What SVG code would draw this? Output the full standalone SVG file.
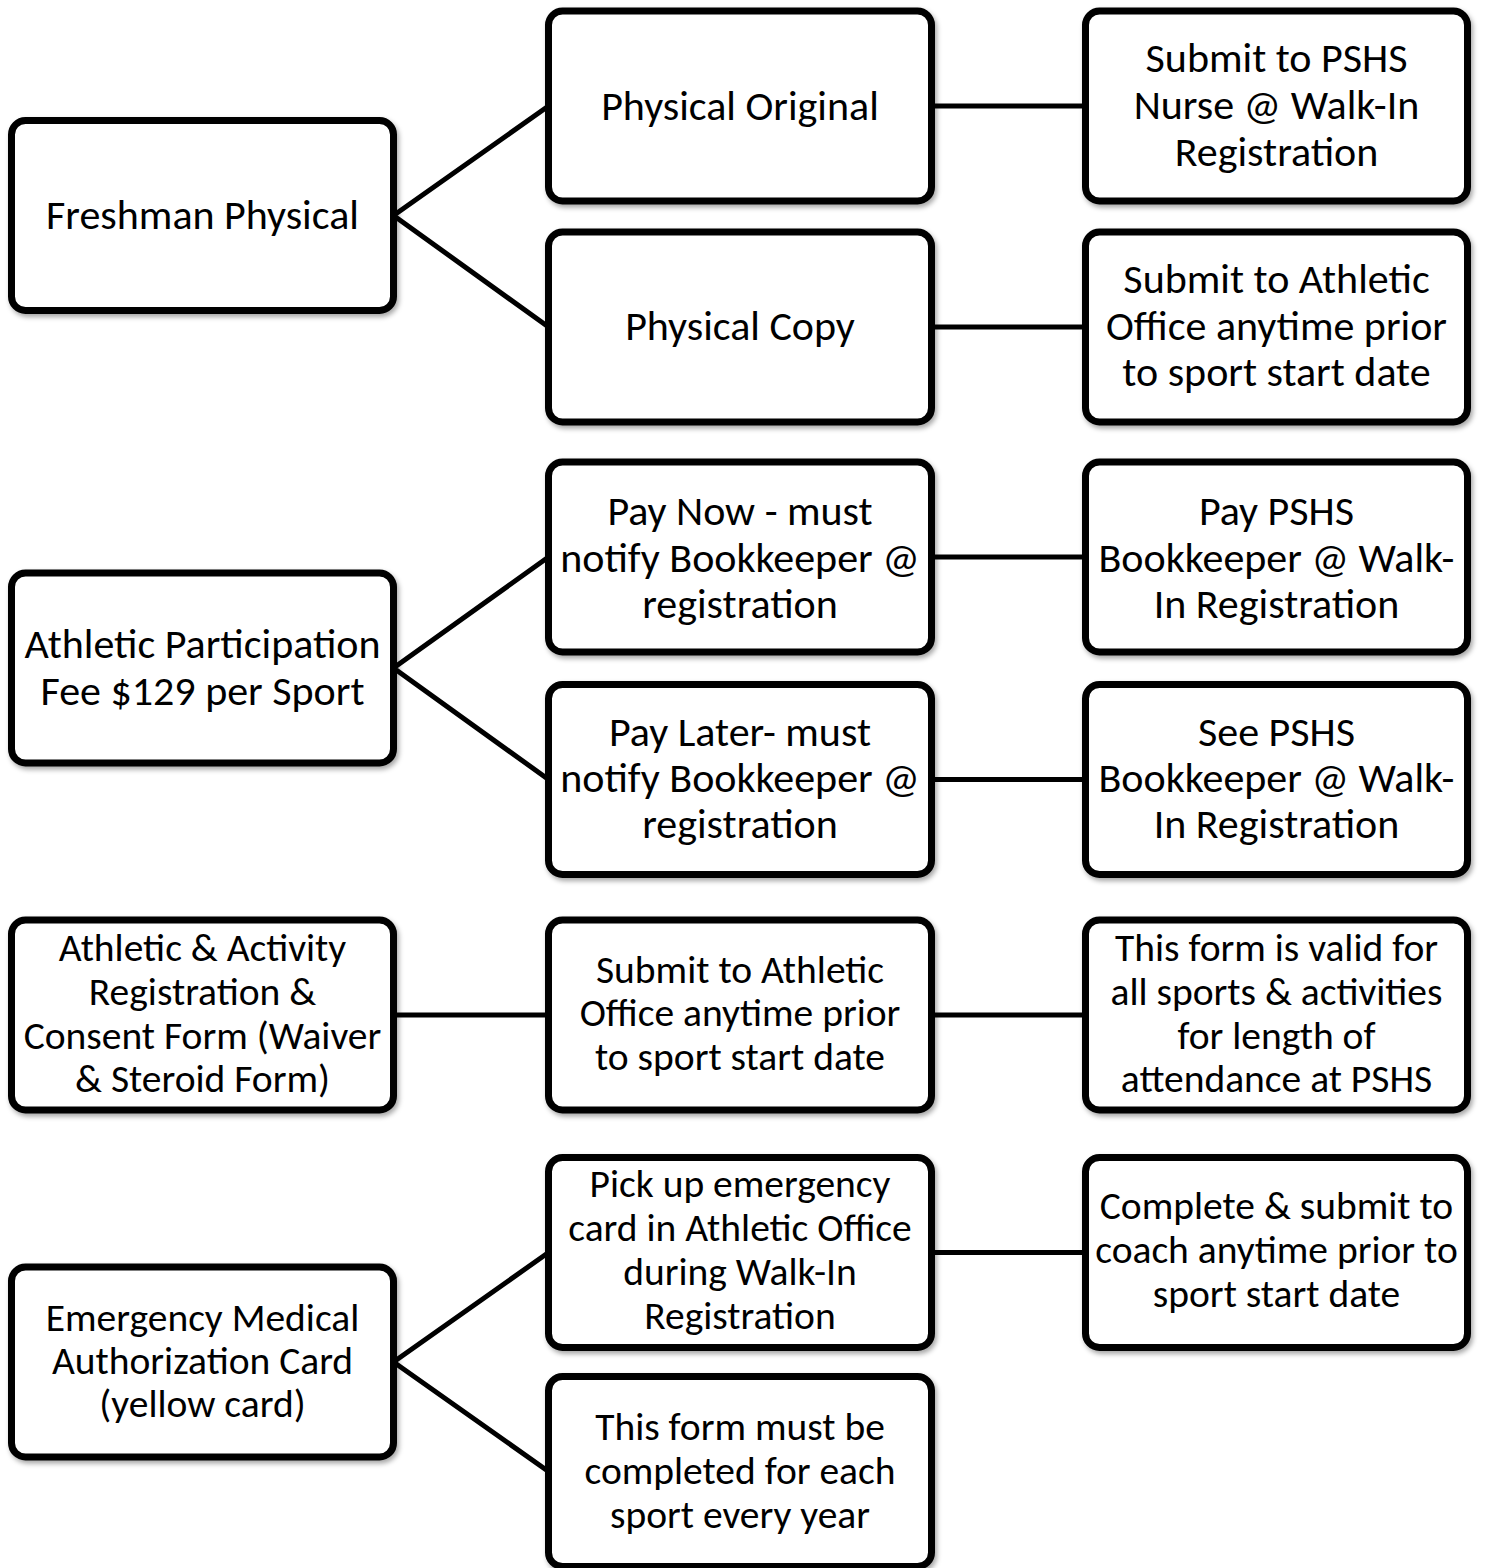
<svg xmlns="http://www.w3.org/2000/svg" width="1485" height="1568" viewBox="0 0 1485 1568">
<defs>
<filter id="sh" x="-5%" y="-5%" width="115%" height="120%">
<feDropShadow dx="2" dy="3" stdDeviation="2.5" flood-color="#000" flood-opacity="0.35"/>
</filter>
</defs>
<style>
.box{fill:#fff;stroke:#000;stroke-width:7;filter:url(#sh)}
.ln{stroke:#000;stroke-width:5;fill:none}
text{font-family:Carlito,Calibri,Lato,"Liberation Sans",sans-serif;fill:#000;text-anchor:middle}
.b{font-size:42px}
.s{font-size:39.5px}
</style>
<rect width="1485" height="1568" fill="#fff"/>
<g id="connectors">
<path class="ln" d="M393.5,215.5 L548.5,106 M393.5,215.5 L548.5,327"/>
<path class="ln" d="M393.5,668 L548.5,557 M393.5,668 L548.5,779.5"/>
<path class="ln" d="M393.5,1015 L548.5,1015"/>
<path class="ln" d="M393.5,1362 L548.5,1252.5 M393.5,1362 L548.5,1471.5"/>
<path class="ln" d="M931.5,106 L1085.5,106 M931.5,327 L1085.5,327 M931.5,557 L1085.5,557 M931.5,779.5 L1085.5,779.5 M931.5,1015 L1085.5,1015 M931.5,1252.5 L1085.5,1252.5"/>
</g>
<g id="freshman-physical">
<rect class="box" x="11.5" y="120.5" width="382" height="190" rx="14"/>
<text class="b" x="202.5" y="229">Freshman Physical</text>
</g>
<g id="physical-original">
<rect class="box" x="548.5" y="11" width="383" height="190" rx="14"/>
<text class="b" x="740" y="119.5">Physical Original</text>
</g>
<g id="physical-copy">
<rect class="box" x="548.5" y="232" width="383" height="190" rx="14"/>
<text class="b" x="740" y="340">Physical Copy</text>
</g>
<g id="submit-nurse">
<rect class="box" x="1085.5" y="11" width="382" height="190" rx="14"/>
<text class="b" x="1276.5" y="72">Submit to PSHS</text>
<text class="b" x="1276.5" y="119">Nurse @ Walk-In</text>
<text class="b" x="1276.5" y="166">Registration</text>
</g>
<g id="submit-athletic-1">
<rect class="box" x="1085.5" y="232" width="382" height="190" rx="14"/>
<text class="b" x="1276.5" y="293">Submit to Athletic</text>
<text class="b" x="1276.5" y="340">Office anytime prior</text>
<text class="b" x="1276.5" y="386">to sport start date</text>
</g>
<g id="athletic-participation">
<rect class="box" x="11.5" y="573" width="382" height="190" rx="14"/>
<text class="b" x="202.5" y="658">Athletic Participation</text>
<text class="b" x="202.5" y="705">Fee $129 per Sport</text>
</g>
<g id="pay-now">
<rect class="box" x="548.5" y="462" width="383" height="190" rx="14"/>
<text class="b" x="740" y="524.5">Pay Now - must</text>
<text class="b" x="740" y="571.5">notify Bookkeeper @</text>
<text class="b" x="740" y="617.5">registration</text>
</g>
<g id="pay-later">
<rect class="box" x="548.5" y="684.5" width="383" height="190" rx="14"/>
<text class="b" x="740" y="745.5">Pay Later- must</text>
<text class="b" x="740" y="791.5">notify Bookkeeper @</text>
<text class="b" x="740" y="837.5">registration</text>
</g>
<g id="pay-pshs">
<rect class="box" x="1085.5" y="462" width="382" height="190" rx="14"/>
<text class="b" x="1276.5" y="524.5">Pay PSHS</text>
<text class="b" x="1276.5" y="571.5">Bookkeeper @ Walk-</text>
<text class="b" x="1276.5" y="617.5">In Registration</text>
</g>
<g id="see-pshs">
<rect class="box" x="1085.5" y="684.5" width="382" height="190" rx="14"/>
<text class="b" x="1276.5" y="745.5">See PSHS</text>
<text class="b" x="1276.5" y="791.5">Bookkeeper @ Walk-</text>
<text class="b" x="1276.5" y="837.5">In Registration</text>
</g>
<g id="consent-form">
<rect class="box" x="11.5" y="920" width="382" height="190" rx="14"/>
<text class="s" x="202.5" y="960.5">Athletic &amp; Activity</text>
<text class="s" x="202.5" y="1004.5">Registration &amp;</text>
<text class="s" x="202.5" y="1048.5">Consent Form (Waiver</text>
<text class="s" x="202.5" y="1091.5">&amp; Steroid Form)</text>
</g>
<g id="submit-athletic-2">
<rect class="box" x="548.5" y="920" width="383" height="190" rx="14"/>
<text class="s" x="740" y="982.5">Submit to Athletic</text>
<text class="s" x="740" y="1026">Office anytime prior</text>
<text class="s" x="740" y="1069.5">to sport start date</text>
</g>
<g id="form-valid">
<rect class="box" x="1085.5" y="920" width="382" height="190" rx="14"/>
<text class="s" x="1276.5" y="960.5">This form is valid for</text>
<text class="s" x="1276.5" y="1004.5">all sports &amp; activities</text>
<text class="s" x="1276.5" y="1048.5">for length of</text>
<text class="s" x="1276.5" y="1091.5">attendance at PSHS</text>
</g>
<g id="emergency-card">
<rect class="box" x="11.5" y="1267" width="382" height="190" rx="14"/>
<text class="s" x="202.5" y="1330.5">Emergency Medical</text>
<text class="s" x="202.5" y="1373.5">Authorization Card</text>
<text class="s" x="202.5" y="1416.5">(yellow card)</text>
</g>
<g id="pick-up">
<rect class="box" x="548.5" y="1157.5" width="383" height="190" rx="14"/>
<text class="s" x="740" y="1196.5">Pick up emergency</text>
<text class="s" x="740" y="1240.5">card in Athletic Office</text>
<text class="s" x="740" y="1284.5">during Walk-In</text>
<text class="s" x="740" y="1328.5">Registration</text>
</g>
<g id="complete-submit">
<rect class="box" x="1085.5" y="1157.5" width="382" height="190" rx="14"/>
<text class="s" x="1276.5" y="1218.5">Complete &amp; submit to</text>
<text class="s" x="1276.5" y="1262.5">coach anytime prior to</text>
<text class="s" x="1276.5" y="1306.5">sport start date</text>
</g>
<g id="form-each-year">
<rect class="box" x="548.5" y="1376.5" width="383" height="190" rx="14"/>
<text class="s" x="740" y="1439.5">This form must be</text>
<text class="s" x="740" y="1483.5">completed for each</text>
<text class="s" x="740" y="1527.5">sport every year</text>
</g>
</svg>
